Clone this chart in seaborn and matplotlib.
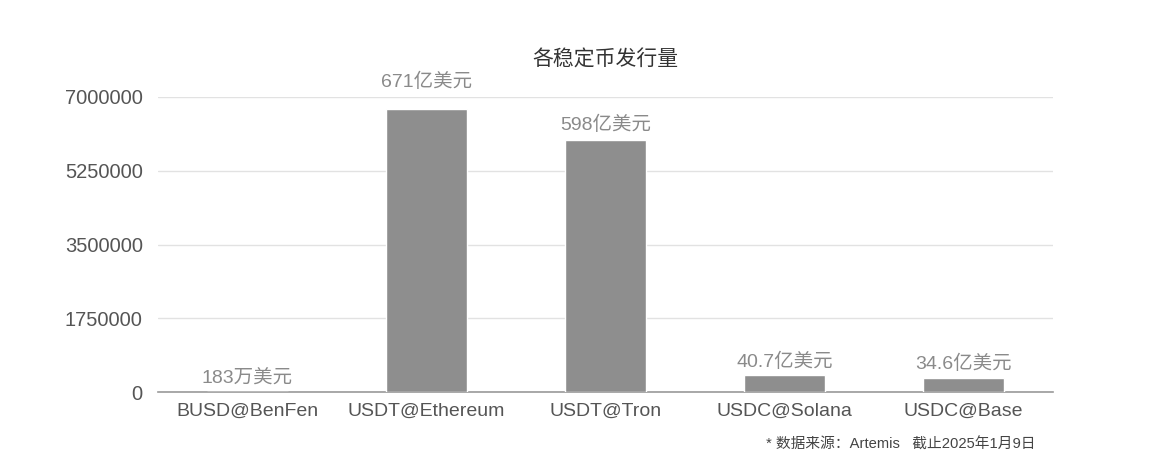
import matplotlib
matplotlib.use("Agg")
import matplotlib.pyplot as plt
import pandas as pd
import seaborn as sns

# issuance in 万美元
chains = ['BUSD@BenFen', 'USDT@Ethereum', 'USDT@Tron', 'USDC@Solana', 'USDC@Base']
supply = [183, 6710000, 5980000, 407000, 346000]
value_labels = ['183万美元', '671亿美元', '598亿美元', '40.7亿美元', '34.6亿美元']
yticks = [0, 1750000, 3500000, 5250000, 7000000]

sns.set_style('white')
plt.rcParams['font.family'] = ['Liberation Sans', 'Noto Sans CJK SC', 'DejaVu Sans']

df = pd.DataFrame({'chain': chains, 'supply': supply})

fig = plt.figure(figsize=(11.49, 4.73), dpi=100)
ax = fig.add_axes([0.1375, 0.171, 0.779, 0.624])

sns.barplot(data=df, x='chain', y='supply', color='#8e8e8e', saturation=1,
            width=0.455, ax=ax, zorder=3)

ax.set_xlim(-0.5, 4.5)
ax.set_ylim(0, 7000000)
ax.set_yticks(yticks)
ax.set_yticklabels([str(t) for t in yticks])
ax.yaxis.grid(True, color='#e2e2e2', linewidth=1, zorder=0)
ax.set_axisbelow(True)
for s in ['top', 'right', 'left']:
    ax.spines[s].set_visible(False)
ax.spines['bottom'].set_color('#9a9a9a')
ax.spines['bottom'].set_linewidth(1.2)
ax.tick_params(axis='y', length=0, labelsize=14.5, labelcolor='#555555', pad=11)
ax.tick_params(axis='x', length=0, labelsize=14, labelcolor='#555555', pad=8)
ax.set_xlabel('')
ax.set_ylabel('')

# value labels above bars
pads = [3, 13, 4, 3, 3]
for i, (v, lab) in enumerate(zip(supply, value_labels)):
    ax.annotate(lab, (i, v), xytext=(0, pads[i]), textcoords='offset points',
                ha='center', va='bottom', fontsize=14, color='#8a8a8a', zorder=5,
                bbox=dict(boxstyle='square,pad=0.15', fc='white', ec='none'))

fig.text(0.527, 0.853, '各稳定币发行量', ha='center', va='bottom',
         fontsize=15, color='#333333', fontweight='medium')
fig.text(0.901, 0.045, '* 数据来源：Artemis   截止2025年1月9日', ha='right', va='bottom',
         fontsize=10.6, color='#444444')

fig.savefig('out.png', dpi=100)
